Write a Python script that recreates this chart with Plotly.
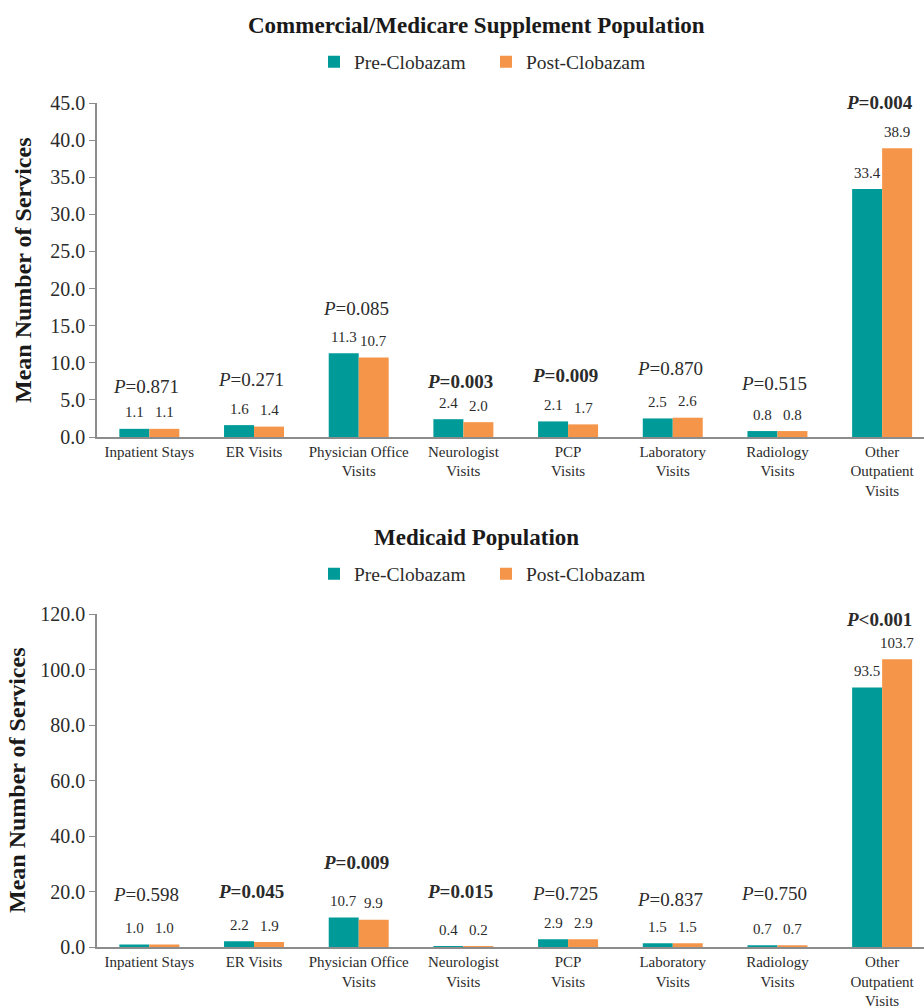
import plotly.graph_objects as go

# ---- data ----
categories = [
    "Inpatient Stays", "ER Visits", "Physician Office<br>Visits",
    "Neurologist<br>Visits", "PCP<br>Visits", "Laboratory<br>Visits",
    "Radiology<br>Visits", "Other<br>Outpatient<br>Visits",
]

comm_pre = [1.1, 1.6, 11.3, 2.4, 2.1, 2.5, 0.8, 33.4]
comm_post = [1.1, 1.4, 10.7, 2.0, 1.7, 2.6, 0.8, 38.9]
comm_p = ["=0.871", "=0.271", "=0.085", "=0.003", "=0.009", "=0.870", "=0.515", "=0.004"]
comm_sig = [False, False, False, True, True, False, False, True]

mcd_pre = [1.0, 2.2, 10.7, 0.4, 2.9, 1.5, 0.7, 93.5]
mcd_post = [1.0, 1.9, 9.9, 0.2, 2.9, 1.5, 0.7, 103.7]
mcd_p = ["=0.598", "=0.045", "=0.009", "=0.015", "=0.725", "=0.837", "=0.750", "<0.001"]
mcd_sig = [False, True, True, True, False, False, False, True]

comm_ticks = [0, 5, 10, 15, 20, 25, 30, 35, 40, 45]
mcd_ticks = [0, 20, 40, 60, 80, 100, 120]

# ---- style ----
W, H = 924, 1007
TEAL = "#009B98"
ORANGE = "#F5954A"
TXT = "#2b2b2b"
AXC = "#8c8c8c"
FONT = "Liberation Serif"

X0_PX = 97                      # left edge of the plotting area
X_RANGE = [-0.5, 7.4]
BARGAP = 0.427
cat_px = (W - X0_PX) / (X_RANGE[1] - X_RANGE[0])
half_bar_px = cat_px * (1 - BARGAP) / 4

# vertical extents of the two panels, in pixels from the top
TOP_Y = (103, 437)
BOT_Y = (614, 947.3)

# lift (px) of each P-value label above the taller bar of its pair
comm_p_lift = [42, 46, 45, 38, 46, 49, 48, 46]
mcd_p_lift = [50, 50, 55, 55, 46, 44, 52, 40]


def ydom(px_range):
    return [1 - px_range[1] / H, 1 - px_range[0] / H]


fig = go.Figure()

panels = [
    ("x", "y", "legend", comm_pre, comm_post, comm_p, comm_sig, comm_p_lift),
    ("x2", "y2", "legend2", mcd_pre, mcd_post, mcd_p, mcd_sig, mcd_p_lift),
]

annotations = []
for xa, ya, lg, pre, post, pv, sig, lift in panels:
    fig.add_trace(go.Bar(x=categories, y=pre, name="Pre-Clobazam", marker_color=TEAL,
                         marker_line_width=0, xaxis=xa, yaxis=ya, legend=lg))
    fig.add_trace(go.Bar(x=categories, y=post, name="Post-Clobazam", marker_color=ORANGE,
                         marker_line_width=0, xaxis=xa, yaxis=ya, legend=lg))
    for i, cat in enumerate(categories):
        for val, sgn in ((pre[i], -1), (post[i], 1)):
            annotations.append(dict(
                x=cat, y=val, xref=xa, yref=ya, text=f"{val:.1f}",
                showarrow=False, xshift=sgn * half_bar_px, yshift=16.5,
                yanchor="middle", font=dict(family=FONT, size=15, color=TXT)))
        label = "<i>P</i>" + pv[i].replace("<", "&lt;")
        if sig[i]:
            label = f"<b>{label}</b>"
        annotations.append(dict(
            x=cat, y=max(pre[i], post[i]), xref=xa, yref=ya, text=label,
            showarrow=False, yshift=lift[i], xshift=-3, yanchor="middle",
            font=dict(family=FONT, size=19, color=TXT)))

# panel titles
for title, ypx in (("Commercial/Medicare Supplement Population", 26),
                   ("Medicaid Population", 537)):
    annotations.append(dict(text=f"<b>{title}</b>", x=476 / W, y=1 - ypx / H,
                            xref="paper", yref="paper", showarrow=False,
                            yanchor="middle",
                            font=dict(family=FONT, size=23, color="#1a1a1a")))

# vertical axis titles
for xpx, ypx in ((23, 270), (17, 780)):
    annotations.append(dict(text="<b>Mean Number of Services</b>", textangle=-90,
                            x=xpx / W, y=1 - ypx / H, xref="paper", yref="paper",
                            showarrow=False, xanchor="center", yanchor="middle",
                            font=dict(family=FONT, size=24, color="#1a1a1a")))

xaxis_style = dict(
    range=X_RANGE, domain=[X0_PX / W, 1], showgrid=False, showline=True,
    linecolor=AXC, linewidth=1.5, ticks="", automargin=False, fixedrange=True,
    tickfont=dict(family=FONT, size=15, color=TXT),
)


def yaxis_style(ticks, top, dom):
    return dict(
        range=[0, top], domain=ydom(dom), tickvals=ticks,
        ticktext=[f"{t:.1f}" for t in ticks], showgrid=False, zeroline=False,
        showline=True, linecolor=AXC, linewidth=1.5, ticks="outside",
        ticklen=6, tickcolor=AXC, automargin=False, fixedrange=True,
        tickfont=dict(family=FONT, size=20, color=TXT),
    )


legend_style = dict(orientation="h", xanchor="center", yanchor="middle",
                    font=dict(family=FONT, size=19.5, color=TXT),
                    bgcolor="rgba(0,0,0,0)", entrywidth=127, itemwidth=30)

fig.update_layout(
    width=W, height=H, margin=dict(l=0, r=0, t=0, b=0),
    paper_bgcolor="white", plot_bgcolor="white",
    barmode="group", bargap=BARGAP, bargroupgap=0,
    xaxis=dict(xaxis_style, anchor="y"),
    xaxis2=dict(xaxis_style, anchor="y2"),
    yaxis=dict(yaxis_style(comm_ticks, 45, TOP_Y), anchor="x"),
    yaxis2=dict(yaxis_style(mcd_ticks, 120, BOT_Y), anchor="x2"),
    legend=dict(legend_style, x=486 / W, y=1 - 62 / H),
    legend2=dict(legend_style, x=486 / W, y=1 - 574 / H),
    annotations=annotations,
    showlegend=True,
)

fig.write_html("out.html")
